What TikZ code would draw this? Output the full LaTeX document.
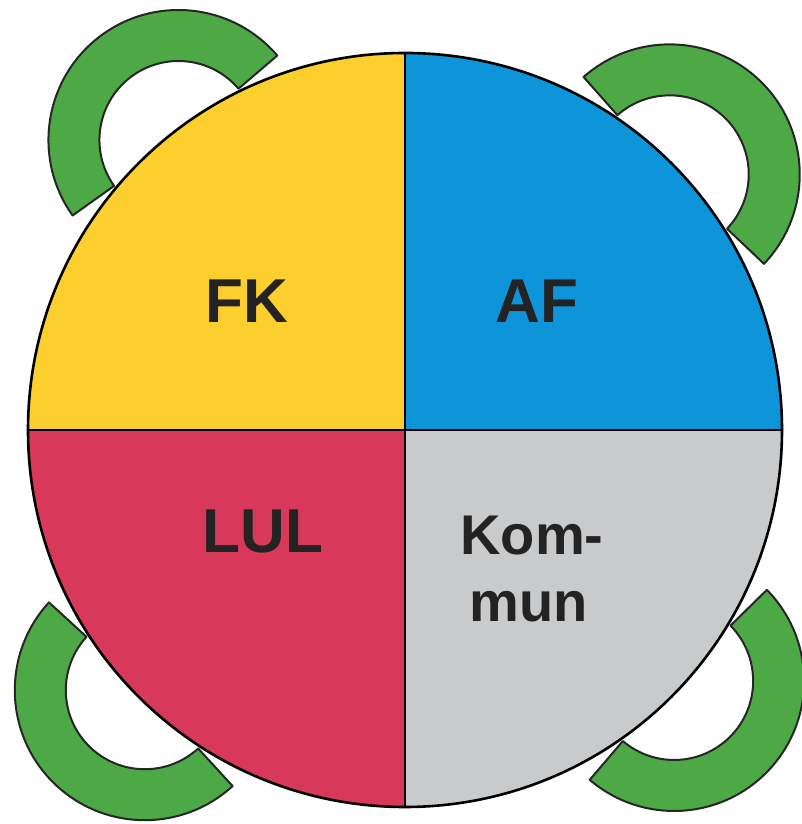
\documentclass[tikz,border=0pt]{standalone}
\usepackage{fontspec}
\setmainfont{Liberation Sans}
\usetikzlibrary{calc}
\definecolor{fkgul}{RGB}{253,207,46}
\definecolor{afbla}{RGB}{14,149,217}
\definecolor{lulrod}{RGB}{216,56,90}
\definecolor{komgra}{RGB}{201,202,204}
\definecolor{stolgron}{RGB}{77,168,70}
\definecolor{textsvart}{RGB}{35,35,35}

\begin{document}
\begin{tikzpicture}[x=1pt,y=1pt,line join=round,
    stol/.style={fill=stolgron,draw=black!85,line width=2pt},
    etikett/.style={font=\bfseries\fontsize{62}{67}\selectfont,text=textsvart,anchor=base},
    liten/.style={font=\bfseries\fontsize{56}{67}\selectfont,text=textsvart,anchor=base}]
                \useasboundingbox (0,0) rectangle (802,824);
                \coordinate (T) at (405,394);
                \coordinate (N) at ($(T)+(0,377)$);
                \coordinate (S) at ($(T)+(0,-377)$);
                \coordinate (W) at ($(T)+(-377,0)$);
                \coordinate (E) at ($(T)+(377,0)$);
                % stolar
                \foreach \a/\n in {128/c1,44/c2,225/c3,317/c4}
                {
                \coordinate (\n) at ($(T)+(\a:368)$);
                \draw[stol] ($(\n)+(\a-87.5:130)$) arc[start angle=\a-87.5,end angle=\a+87.5,radius=130]
                    -- ($(\n)+(\a+87.5:79)$) arc[start angle=\a+87.5,end angle=\a-87.5,radius=79] -- cycle;
                }
                % bordet
                \fill[fkgul] (T) -- (N) arc[start angle=90,end angle=180,radius=377] -- cycle;
                \fill[afbla] (T) -- (E) arc[start angle=0,end angle=90,radius=377] -- cycle;
                \fill[lulrod] (T) -- (W) arc[start angle=180,end angle=270,radius=377] -- cycle;
                \fill[komgra] (T) -- (S) arc[start angle=270,end angle=360,radius=377] -- cycle;
                \draw[line width=2pt] (N) -- (S);
                \draw[line width=2pt] (W) -- (E);
                \draw[line width=2.6pt] (T) circle[radius=377];
                \node[etikett] (fk) at (247,501) {FK};
                \node[etikett] (af) at (537,501) {AF};
                \node[etikett] (lul) at (263,271) {LUL};
                \node[liten] (kom) at (532,269) {Kom-};
                \node[liten] (mun) at (529,202) {mun};
            \end{tikzpicture}
\end{document}
